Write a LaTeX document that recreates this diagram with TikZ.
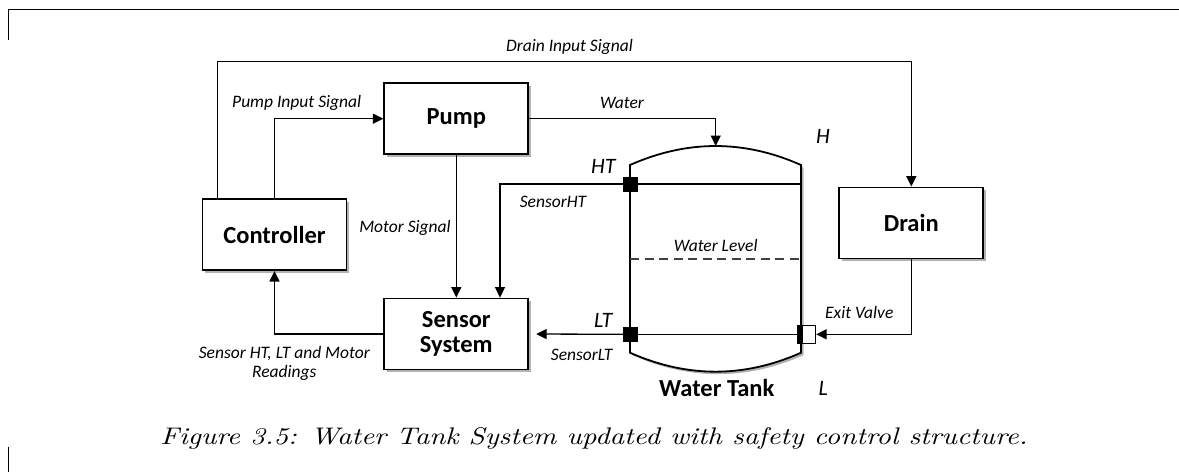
\documentclass[tikz,border=0pt]{standalone}
\usepackage{fontspec}
\newfontfamily\carl{Carlito}
\newfontfamily\capfont{lmroman10-italic}[Extension=.otf,FakeStretch=1.19]
\usetikzlibrary{arrows.meta,shadows}
\begin{document}
\begin{tikzpicture}[x=1pt,y=-1pt,
  shd/.style={drop shadow={shadow xshift=2.5pt,shadow yshift=-2.5pt,opacity=0.3,fill=black}},
  blk/.style={draw,line width=1.8pt,fill=white,minimum width=144pt,minimum height=71pt,inner sep=0pt,
    font=\carl\bfseries\fontsize{24.5}{24.3}\selectfont,align=center,shd},
  conn/.style={line width=1.3pt},
  arr/.style={conn,-{Triangle[length=10.5pt,width=10pt]}},
  lbl/.style={font=\carl\itshape\fontsize{17.5}{20}\selectfont,inner sep=0pt,align=center},
  big/.style={font=\carl\itshape\fontsize{22}{22}\selectfont,inner sep=0pt},
  sensq/.style={draw,fill=black,minimum size=14pt,inner sep=0pt}
]
\useasboundingbox (0,0) rectangle (1179,472);
% frame
\draw[line width=1pt] (8.4,40) -- (8.4,9.3) -- (1179,9.3);
\draw[line width=1pt] (8.4,446.7) -- (8.4,472);
% boxes
\node[blk] (pump) at (456.3,118.7) {Pump};
\node[blk] (ctrl) at (274.5,234.7) {Controller};
\node[blk] (sens) at (456.3,334) {Sensor\\System};
\node[blk] (drain) at (911.3,223) {Drain};
% tank
\draw[line width=1.8pt,fill=white,shd] (630,165) .. controls (687.1,139.7) and (744.1,139.7) .. (801,165)
  -- (801,352.7) .. controls (744.1,378) and (687.1,378) .. (630,352.7) -- cycle;
\draw[line width=1.2pt,black!75,dash pattern=on 9pt off 5.5pt] (630,259) -- (801,259);
\coordinate (tanktop) at (715.7,146);
\coordinate (htwall) at (801,184);
\coordinate (dtop) at (217.7,61.7);
% sensors
\node[sensq] (ht) at (630,184) {};
\node[sensq] (lt) at (630,334.3) {};
\node[draw,fill=white,minimum width=18pt,minimum height=18pt,inner sep=0pt,line width=1pt,
  path picture={\fill[black] (path picture bounding box.south west) rectangle ([xshift=5.6pt]path picture bounding box.north west);}]
  (valve) at (806.7,334.3) {};
% connectors
\draw[arr] (pump.east) -| (tanktop);
\draw[arr] (ctrl.north) |- (pump.west);
\draw[arr] ([xshift=-56.8pt]ctrl.north) -- (dtop) -| (drain.north);
\draw[arr] (pump.south) -- (sens.north);
\draw[conn] (htwall) -- (ht.center);
\draw[arr] (ht.center) -| ([xshift=43.7pt]sens.north);
\draw[conn] (valve.west) -- (lt.center);
\draw[arr,shorten >=7pt] (lt.center) -- (sens.east);
\draw[arr] (sens.west) -| (ctrl.south);
\draw[arr] (drain.south) |- (valve.east);
% redraw sensors on top
\node[sensq] at (ht) {};
\node[sensq] at (lt) {};
% labels
\node[lbl] (l1) at (569.5,46.7) {Drain Input Signal};
\node[lbl] (l2) at (296.7,103.3) {Pump Input Signal};
\node[lbl] (l3) at (622,103.3) {Water};
\node[lbl] (l4) at (405,227.7) {Motor Signal};
\node[lbl] (l5) at (553,201.7) {SensorHT};
\node[lbl] (l6) at (715.7,245) {Water Level};
\node[lbl] (l7) at (581.7,355) {SensorLT};
\node[lbl] (l8) at (859.3,312.7) {Exit Valve};
\node[lbl] (l9) at (284.3,353.3) {Sensor HT, LT and Motor};
\node[lbl] (l10) at (284.3,373.3) {Readings};
\node[big] (lht) at (603.3,166.7) {HT};
\node[big] (llt) at (603.3,320) {LT};
\node[big] (lh) at (823,136) {H};
\node[big] (ll) at (823.3,388) {L};
\node[font=\carl\bfseries\fontsize{24.5}{24}\selectfont,inner sep=0pt] (wt) at (716.7,388.3) {Water Tank};
\node[font=\capfont\fontsize{24}{28}\selectfont,inner sep=0pt] (cap) at (594,438) {Figure 3.5: Water Tank System updated with safety control structure.};
\end{tikzpicture}
\end{document}
